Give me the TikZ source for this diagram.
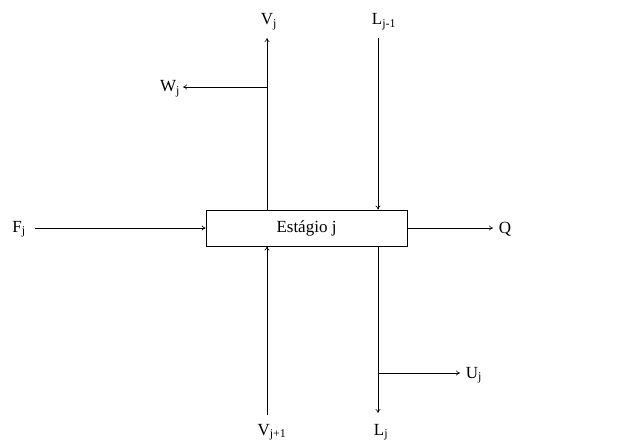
\documentclass[tikz,border=0pt]{standalone}
\usepackage{fontspec}
\setmainfont{Liberation Serif}
\usetikzlibrary{arrows.meta}
\newcommand{\mysub}[1]{\textsubscript{#1}}
\begin{document}
\begin{tikzpicture}[x=1pt,y=-1pt,
  flow/.style={draw, line width=0.6pt, -{To[length=4pt,width=5pt]}},
  lbl/.style={inner sep=1pt, font=\fontsize{17}{19}\selectfont},
  stagebox/.style={draw, line width=0.7pt, minimum width=201pt, minimum height=36pt, inner sep=0pt, font=\fontsize{17}{19}\selectfont}]
\useasboundingbox (0,0) rectangle (632,443);
\node[stagebox] (box) at (306.5,228) {Estágio j};
% labels
\node[lbl] (Vj) at (269,22) {V\mysub{j}};
\node[lbl] (Ljm) at (384,22) {L\mysub{j-1}};
\node[lbl] (Wj) at (170,89) {W\mysub{j}};
\node[lbl] (Fj) at (19,229) {F\mysub{j}};
\node[lbl] (Q) at (505,229) {Q};
\node[lbl] (Vjp) at (272,432) {V\mysub{j+1}};
\node[lbl] (Lj) at (381,432) {L\mysub{j}};
\node[lbl] (Uj) at (474,375) {U\mysub{j}};
% coordinates
\coordinate (vtop) at (267,38);
\coordinate (wsplit) at (267,87);
\coordinate (wend) at (183,87);
\coordinate (ltop) at (378,38);
\coordinate (fstart) at (35,228);
\coordinate (qend) at (493,228);
\coordinate (vbot) at (267,415);
\coordinate (lbot) at (378,413);
\coordinate (usplit) at (378,373);
\coordinate (uend) at (460,373);
% connectors
\draw[flow] (box.north -| vtop) -- (vtop);
\draw[flow] (wsplit) -- (wend);
\draw[flow] (ltop) -- (box.north -| ltop);
\draw[flow] (fstart) -- (box.west);
\draw[flow] (box.east) -- (qend);
\draw[flow] (vbot) -- (box.south -| vbot);
\draw[flow] (box.south -| lbot) -- (lbot);
\draw[flow] (usplit) -- (uend);
\end{tikzpicture}
\end{document}
